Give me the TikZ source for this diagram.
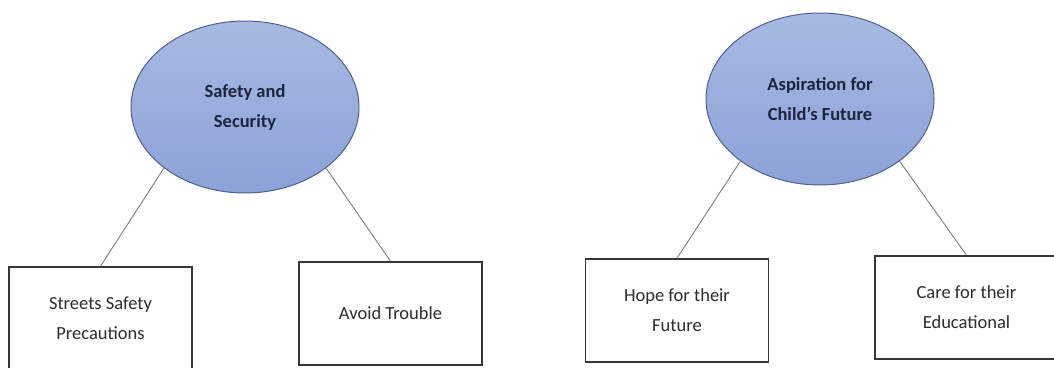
\documentclass[tikz,border=0pt]{standalone}
\usepackage{fontspec}
\setmainfont{Carlito}
\usetikzlibrary{shapes}

\definecolor{ovaltop}{RGB}{168,185,226}
\definecolor{ovalbottom}{RGB}{140,162,215}
\definecolor{ovalline}{RGB}{78,96,140}
\definecolor{themetext}{RGB}{28,36,64}
\definecolor{itemtext}{RGB}{45,45,45}
\definecolor{boxline}{RGB}{55,55,55}
\definecolor{linkgray}{RGB}{125,125,125}

\begin{document}
\begin{tikzpicture}[x=1pt,y=-1pt,
  theme/.style={ellipse, draw=ovalline, line width=1pt, top color=ovaltop, bottom color=ovalbottom,
    minimum width=228pt, minimum height=172pt, inner sep=0pt, align=center,
    font=\fontsize{18.5}{30}\selectfont\bfseries, text=themetext},
  item/.style={draw=boxline, line width=1.6pt, fill=white, minimum width=183pt, minimum height=103pt,
    inner sep=0pt, align=center, font=\fontsize{18.5}{30}\selectfont, text=itemtext},
  link/.style={draw=linkgray, line width=0.9pt}]
\path[use as bounding box, clip] (0,0) rectangle (1054,367);

% first theme
\node[theme] (safety) at (245,107) {Safety and\\Security};
\node[item] (streets) at (100.5,318.5) {Streets Safety\\Precautions};
\node[item] (trouble) at (390.5,313.5) {Avoid Trouble};
\draw[link] (safety.217) -- (streets.north);
\draw[link] (safety.323) -- (trouble.north);

% second theme
\node[theme] (aspire) at (820,99) {Aspiration for\\Child's Future};
\node[item] (hope) at (677,310.5) {Hope for their\\Future};
\node[item] (care) at (966.5,307.5) {Care for their\\Educational};
\draw[link] (aspire.218) -- (hope.north);
\draw[link] (aspire.322) -- (care.north);
\end{tikzpicture}
\end{document}
